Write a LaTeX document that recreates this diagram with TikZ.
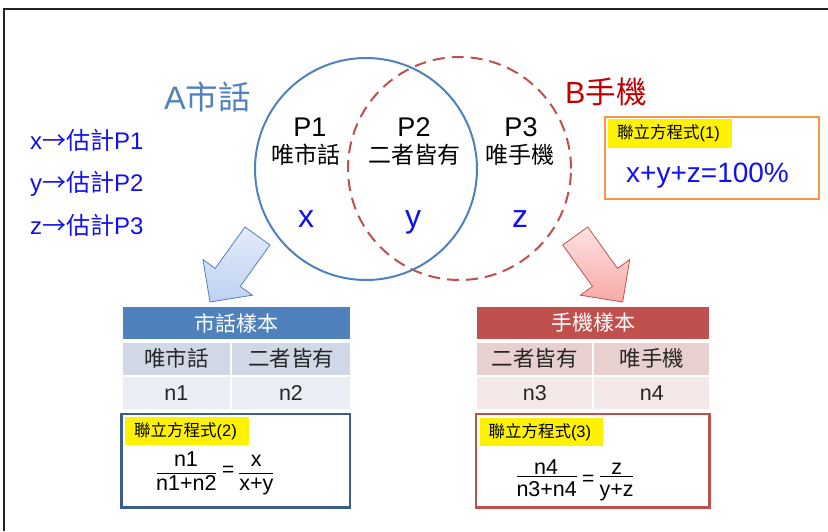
\documentclass[tikz,border=0pt]{standalone}
\usepackage{fontspec}
\setmainfont{Liberation Sans}
\newfontfamily\C{Noto Sans CJK TC}
\definecolor{acc1}{HTML}{4F81BD}
\definecolor{acc2}{HTML}{C0504D}
\definecolor{darkB}{HTML}{3A5F8E}
\definecolor{bred}{HTML}{C00000}
\definecolor{vblue}{RGB}{16,16,240}
\definecolor{orng}{HTML}{F79646}
\definecolor{rowBa}{HTML}{D0D8E8}
\definecolor{rowBb}{HTML}{E9EDF4}
\definecolor{rowRa}{HTML}{E8D0CF}
\definecolor{rowRb}{HTML}{F3E7E7}
\definecolor{frame}{HTML}{222222}
\newcommand\fs[1]{\fontsize{#1}{#1}\selectfont}
\tikzset{
  vlab/.style={font=\fs{27}, text=black, anchor=base},
  vsub/.style={font=\fs{23}, text=black},
  vvar/.style={font=\fs{32}, text=vblue, anchor=base},
  est/.style={font=\fs{24}, text=vblue, anchor=base west},
  hdr/.style={font=\fs{21}, text=white, minimum height=32.6pt},
  cellA/.style={font=\fs{21.5}, text=black!85, draw=white, line width=2pt, minimum height=34pt},
  ylab/.style={fill=yellow, font=\fs{16.5}, text=black, inner xsep=9pt, inner ysep=0pt, align=left, minimum height=28.5pt},
  eqbox/.style={line width=2.5pt, minimum width=#1},
  fr/.style={font=\fs{21.5}, text=black, anchor=base},
  frbar/.style={line width=1.3pt, black},
}
\begin{document}
\begin{tikzpicture}[x=1pt,y=-1pt, every node/.style={inner sep=0pt}]
\useasboundingbox (0,0) rectangle (828,531);
% frame
\draw[frame, line width=2pt] (4,531) -- (4,9) -- (828,9);

% Venn circles
\draw[acc2, line width=2pt, dash pattern=on 12pt off 7pt] (459.5,168.5) circle[radius=111.5pt];
\draw[acc1, line width=2pt] (366,169) circle[radius=111pt];

% titles
\node[font=\fs{32.5}, text=acc1, anchor=base west] (ta) at (164,109) {A{\C 市話}};
\node[font=\fs{30.5}, text=bred, anchor=base west] (tb) at (565,103) {B{\C 手機}};

% estimates
\node[est] (e1) at (30,149) {x{\C →估計}P1};
\node[est] (e2) at (30,191.5) {y{\C →估計}P2};
\node[est] (e3) at (30,234) {z{\C →估計}P3};

% venn labels
\node[vlab] (p1) at (310,136) {P1};
\node[vsub] (s1) at (306,155) {\C 唯市話};
\node[vlab] (p2) at (414,136) {P2};
\node[vsub] (s2) at (414,155) {\C 二者皆有};
\node[vlab] (p3) at (521,136) {P3};
\node[vsub] (s3) at (520,155) {\C 唯手機};
\node[vvar] (vx) at (306,227) {x};
\node[vvar] (vy) at (413,227) {y};
\node[vvar] (vz) at (520,227) {z};

% equation box 1
\node[draw=orng, eqbox=214pt, minimum height=82pt] (box1) at (712,158) {};
\node[ylab, text width=106pt, anchor=north west] (y1) at (608,119) {{\C 聯立方程式}(1)};
\node[font=\fs{28}, text=vblue, anchor=base west] (eq1) at (626,182.5) {x+y+z=100\%};

% arrows
\draw[acc1, line width=0.8pt, top color={rgb,255:red,228;green,236;blue,249}, bottom color={rgb,255:red,190;green,208;blue,243}]
  (245,227) -- (270,245) -- (240.2,286.4) -- (252.4,295.2) -- (210,302) -- (203,259.6) -- (215.2,268.4) -- cycle;
\draw[acc2, line width=0.8pt, top color={rgb,255:red,252;green,226;blue,226}, bottom color={rgb,255:red,247;green,170;blue,166}]
  (587.7,227) -- (562.7,245) -- (592.5,286.4) -- (580.3,295.2) -- (622.7,302) -- (629.7,259.6) -- (617.5,268.4) -- cycle;

% left table
\node[hdr, fill=acc1, minimum width=227.3pt] (th1) at (236.35,323) {\C 市話樣本};
\node[cellA, fill=rowBa, minimum width=109.3pt] (a11) at (176.35,358.7) {\C 唯市話};
\node[cellA, fill=rowBa, minimum width=120pt] (a12) at (291,358.7) {\C 二者皆有};
\node[cellA, fill=rowBb, minimum width=109.3pt] (a21) at (176.35,392.7) {n1};
\node[cellA, fill=rowBb, minimum width=120pt] (a22) at (291,392.7) {n2};

% right table
\node[hdr, fill=acc2, minimum width=232pt] (th2) at (593.3,323) {\C 手機樣本};
\node[cellA, fill=rowRa, minimum width=117pt] (b11) at (534.8,358.7) {\C 二者皆有};
\node[cellA, fill=rowRa, minimum width=117pt] (b12) at (651.8,358.7) {\C 唯手機};
\node[cellA, fill=rowRb, minimum width=117pt] (b21) at (534.8,392.7) {n3};
\node[cellA, fill=rowRb, minimum width=117pt] (b22) at (651.8,392.7) {n4};

% equation box 2
\node[draw=darkB, eqbox=228.3pt, minimum height=93.3pt] (box2) at (235.85,460.65) {};
\node[ylab, text width=105.3pt, anchor=north west] (y2) at (125,416.7) {{\C 聯立方程式}(2)};
\node[fr] (f2n1) at (186,466.7) {n1};
\node[fr] (f2d1) at (186.3,490.7) {n1+n2};
\draw[frbar] (156.7,473.3) -- (216,473.3);
\node[font=\fs{21}] (f2eq) at (228.3,471.7) {=};
\node[fr] (f2n2) at (256.3,466.7) {x};
\node[fr] (f2d2) at (256.3,490.3) {x+y};
\draw[frbar] (239.3,473.3) -- (273.3,473.3);

% equation box 3
\node[draw=acc2, eqbox=233.3pt, minimum height=93.3pt] (box3) at (592.65,460.65) {};
\node[ylab, text width=105.4pt, anchor=north west] (y3) at (479.3,417.3) {{\C 聯立方程式}(3)};
\node[fr] (f3n1) at (546,474) {n4};
\node[fr] (f3d1) at (546.7,496.7) {n3+n4};
\draw[frbar] (516.7,476.7) -- (577.3,476.7);
\node[font=\fs{21}] (f3eq) at (588.3,480) {=};
\node[fr] (f3n2) at (616.7,474) {z};
\node[fr] (f3d2) at (616.7,496.7) {y+z};
\draw[frbar] (600,476.7) -- (633.3,476.7);
\end{tikzpicture}
\end{document}
